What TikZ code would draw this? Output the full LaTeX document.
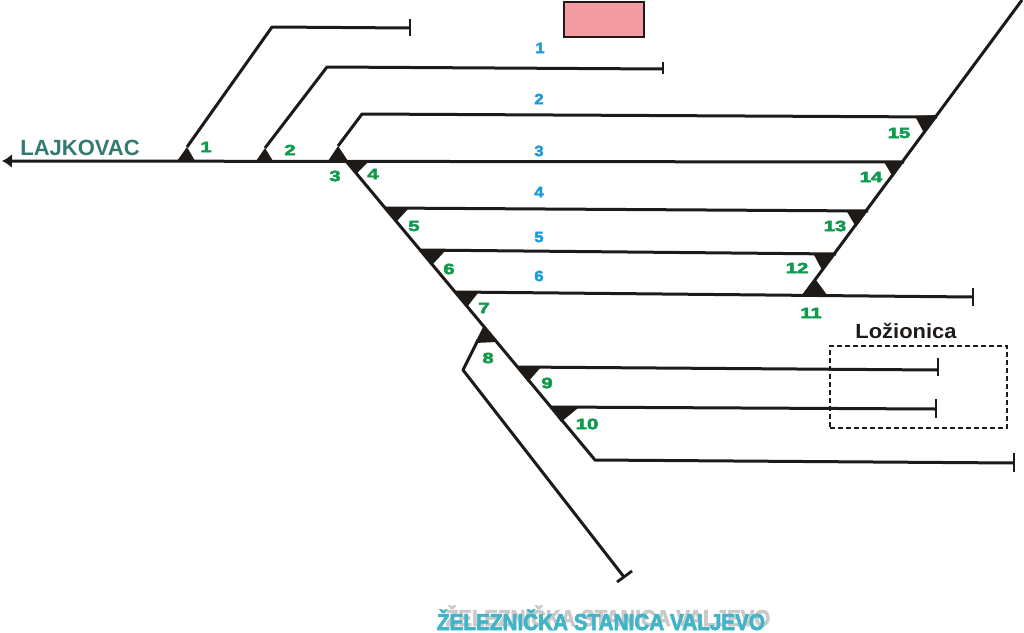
\documentclass[tikz,border=0pt]{standalone}
\usepackage{fontspec}
\usepackage{graphicx}
\setmainfont{Liberation Sans}
\newfontfamily\heavyface{Liberation Sans}[UprightFont=* Bold,FakeBold=3]
\newfontfamily\mediumface{Liberation Sans}[UprightFont=* Bold]
\usetikzlibrary{arrows.meta}
\definecolor{trk}{HTML}{1E1A17}
\definecolor{grn}{HTML}{0F9A4C}
\definecolor{blu}{HTML}{1C9BDC}
\definecolor{lajk}{HTML}{347A70}
\definecolor{stn}{HTML}{41B4C8}
\definecolor{shd}{HTML}{C9C9C9}
\definecolor{pnk}{HTML}{F49CA4}
\tikzset{
  track/.style={draw=trk,line width=3pt,line join=round},
  stopbar/.style={draw=trk,line width=2.8pt},
  sw/.style={fill=trk,draw=none},
  grnum/.style={inner sep=0pt,text=grn,font=\fontsize{15}{15}\heavyface},
  blnum/.style={inner sep=0pt,text=blu,font=\fontsize{15}{15}\heavyface},
}
\newcommand{\widenum}[1]{\scalebox{1.35}[1]{#1}}
\newcommand{\bluenum}[1]{\scalebox{1.1}[1]{#1}}
\begin{document}
\begin{tikzpicture}[x=1pt,y=-1pt]
\useasboundingbox (0,0) rectangle (1024,632);
% junctions and ends
\coordinate (tip) at (2,161);
\coordinate (j3e) at (904,162);
\coordinate (a1) at (187,147); \coordinate (a1k) at (272,27); \coordinate (a1e) at (410,28);
\coordinate (a2) at (265,148); \coordinate (a2k) at (327,67); \coordinate (a2e) at (663,69);
\coordinate (a3) at (338,146); \coordinate (a3k) at (362,114); \coordinate (a3e) at (937,117);
\coordinate (dl0) at (346,161); \coordinate (dlk) at (595,460); \coordinate (dle) at (1014,463);
\coordinate (t4s) at (385,208); \coordinate (t4e) at (868,211);
\coordinate (t5s) at (420,250); \coordinate (t5e) at (836,254);
\coordinate (t6s) at (456,292); \coordinate (t6e) at (973,297);
\coordinate (t9s) at (517,367); \coordinate (t9e) at (938,370);
\coordinate (t10s) at (550,407); \coordinate (t10e) at (936,409);
\coordinate (b8) at (478,340); \coordinate (b8k) at (463,370); \coordinate (b8e) at (624,577);
\coordinate (dr0) at (803,296); \coordinate (dre) at (1022,0);
% tracks
\draw[track,-{Latex[length=10pt,width=14pt]}] (j3e) -- (tip);
\draw[track] (a1) -- (a1k) -- (a1e);
\draw[track] (a2) -- (a2k) -- (a2e);
\draw[track] (a3) -- (a3k) -- (a3e);
\draw[track] (dl0) -- (dlk) -- (dle);
\draw[track] (t4s) -- (t4e);
\draw[track] (t5s) -- (t5e);
\draw[track] (t6s) -- (t6e);
\draw[track] (t9s) -- (t9e);
\draw[track] (t10s) -- (t10e);
\draw[track] (b8) -- (b8k) -- (b8e);
\draw[track] (dr0) -- (dre);
% stop bars
\draw[stopbar] (410,19) -- (410,36);
\draw[stopbar] (663,62) -- (663,74);
\draw[stopbar] (973,288) -- (973,306);
\draw[stopbar] (938,358) -- (938,376);
\draw[stopbar] (936,399) -- (936,418);
\draw[stopbar] (1014,453) -- (1014,472);
\draw[stopbar] (617,582) -- (632,571);
% switches
\fill[sw] (187,147) -- (177,161) -- (195,161) -- cycle;
\fill[sw] (265,148) -- (256,161) -- (273,161) -- cycle;
\fill[sw] (338,146) -- (328,161) -- (348,161) -- cycle;
\fill[sw] (347,161) -- (368,162) -- (356,174) -- cycle;
\fill[sw] (385,208) -- (409,208) -- (396,222) -- cycle;
\fill[sw] (420,250) -- (445,251) -- (433,264) -- cycle;
\fill[sw] (456,292) -- (478,293) -- (467,307) -- cycle;
\fill[sw] (483,327) -- (475,343) -- (496,342) -- cycle;
\fill[sw] (517,367) -- (541,367) -- (528,382) -- cycle;
\fill[sw] (550,407) -- (578,408) -- (561,422) -- cycle;
\fill[sw] (816,280) -- (803,296) -- (827,295) -- cycle;
\fill[sw] (813,253) -- (836,253) -- (822,270) -- cycle;
\fill[sw] (846,210) -- (868,210) -- (856,227) -- cycle;
\fill[sw] (884,162) -- (903,162) -- (893,177) -- cycle;
\fill[sw] (915,116) -- (937,115) -- (924,133) -- cycle;
% building
\node[draw=trk,line width=1.2pt,fill=pnk,minimum width=80pt,minimum height=35pt,inner sep=0pt] (bld) at (604,19.5) {};
% depot
\node[draw=trk,line width=2.6pt,dash pattern=on 5pt off 3pt,minimum width=177pt,minimum height=82pt,inner sep=0pt] (depot) at (918.5,387) {};
\node[inner sep=0pt,text=trk,font=\fontsize{20.5}{20.5}\mediumface] (dname) at (906,331) {\scalebox{1.07}[1]{Ložionica}};
% numbers
\node[grnum] (g1) at (206,147) {\widenum{1}};
\node[grnum] (g2) at (290,150) {\widenum{2}};
\node[grnum] (g3) at (335,176) {\widenum{3}};
\node[grnum] (g4) at (373,174) {\widenum{4}};
\node[grnum] (g5) at (414,226) {\widenum{5}};
\node[grnum] (g6) at (449,269) {\widenum{6}};
\node[grnum] (g7) at (484,308) {\widenum{7}};
\node[grnum] (g8) at (488,358) {\widenum{8}};
\node[grnum] (g9) at (547,383) {\widenum{9}};
\node[grnum] (g10) at (587,424) {\widenum{10}};
\node[grnum] (g11) at (811,313) {\widenum{11}};
\node[grnum] (g12) at (797,268) {\widenum{12}};
\node[grnum] (g13) at (835,226) {\widenum{13}};
\node[grnum] (g14) at (871,177) {\widenum{14}};
\node[grnum] (g15) at (899,133) {\widenum{15}};
\node[blnum] (b1) at (540,48) {\bluenum{1}};
\node[blnum] (b2) at (539,99) {\bluenum{2}};
\node[blnum] (b3) at (539,151) {\bluenum{3}};
\node[blnum] (b4) at (539,192) {\bluenum{4}};
\node[blnum] (b5) at (539,237) {\bluenum{5}};
\node[blnum] (b6) at (539,276) {\bluenum{6}};
% titles
\node[inner sep=0pt,text=lajk,font=\fontsize{22}{22}\mediumface,anchor=base] (lj) at (80,155) {LAJKOVAC};
\node[inner sep=0pt,text=shd,font=\fontsize{23}{23}\heavyface,anchor=base] (st0) at (608,626) {\scalebox{0.89}[1]{ŽELEZNIČKA STANICA VALJEVO}};
\node[inner sep=0pt,text=stn,font=\fontsize{23}{23}\heavyface,anchor=base] (st1) at (601,630) {\scalebox{0.9}[1]{ŽELEZNIČKA STANICA VALJEVO}};
\end{tikzpicture}
\end{document}
